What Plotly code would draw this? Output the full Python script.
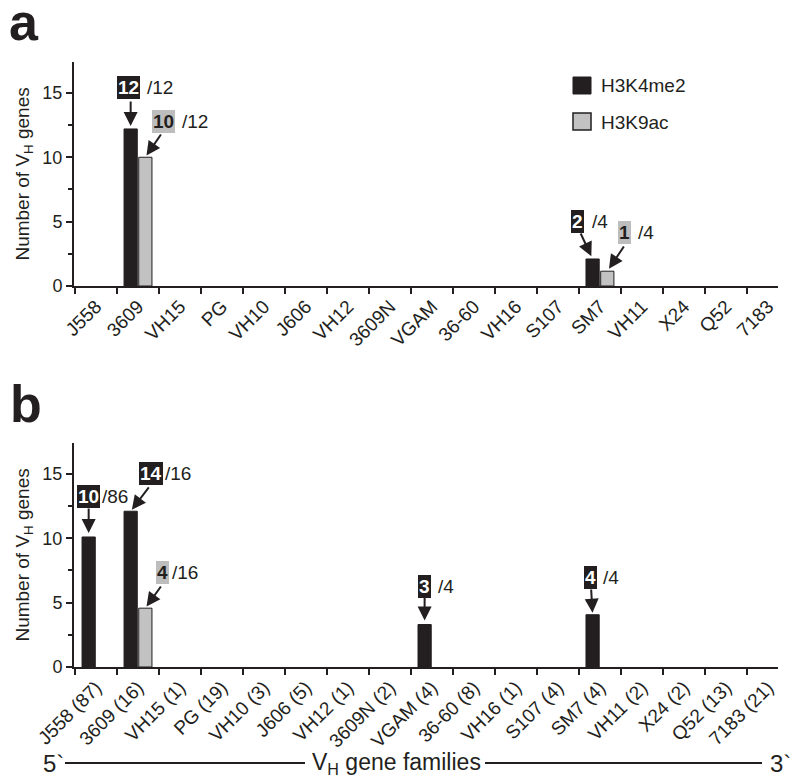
import plotly.graph_objects as go

# ---------------- data ----------------
families_a = ["J558", "3609", "VH15", "PG", "VH10", "J606", "VH12", "3609N", "VGAM",
              "36-60", "VH16", "S107", "SM7", "VH11", "X24", "Q52", "7183"]
family_sizes = [87, 16, 1, 19, 3, 5, 1, 2, 4, 8, 1, 4, 4, 2, 2, 13, 21]
families_b = [f"{f} ({n})" for f, n in zip(families_a, family_sizes)]

a_h3k4me2 = [0, 12.2, 0, 0, 0, 0, 0, 0, 0, 0, 0, 0, 2.1, 0, 0, 0, 0]
a_h3k9ac = [0, 10.0, 0, 0, 0, 0, 0, 0, 0, 0, 0, 0, 1.15, 0, 0, 0, 0]
b_h3k4me2 = [10.1, 12.1, 0, 0, 0, 0, 0, 0, 3.3, 0, 0, 0, 4.06, 0, 0, 0, 0]
b_h3k9ac = [0, 4.57, 0, 0, 0, 0, 0, 0, 0, 0, 0, 0, 0, 0, 0, 0, 0]

# count labels: (category index, series, count, total)
labels_a = [(1, "H3K4me2", "12", "/12"), (1, "H3K9ac", "10", "/12"),
            (12, "H3K4me2", "2", "/4"), (12, "H3K9ac", "1", "/4")]
labels_b = [(0, "H3K4me2", "10", "/86"), (1, "H3K4me2", "14", "/16"),
            (1, "H3K9ac", "4", "/16"), (8, "H3K4me2", "3", "/4"),
            (12, "H3K4me2", "4", "/4")]

# ---------------- style ----------------
FONT = "Liberation Sans, Arial, Helvetica, sans-serif"
INK = "#231f20"
GRAY = "#c2c2c2"
BOXGRAY = "#bdbdbd"
BARGAP = 0.3
OFF = (1 - BARGAP) / 4  # bar center offset within group

# pixel offsets for the label boxes / arrows (box_dx, box_dy, tot_dx, ax, ay, standoff)
offs_a = [(-2, 41, 14.4, 0, -29, 3), (18.6, 35.3, 34.6, 16.6, -24.3, 2),
          (-15.1, 37.5, -2.6, -12.6, -27, 3), (17.1, 39.2, 28.6, 17.6, -26.2, 3)]
offs_b = [(-0.6, 40.5, 11.3, 0, -30, 4), (20.3, 37.3, 32.3, 19.3, -25.3, 2),
          (17.6, 35.7, 24.6, 16.6, -23.2, 2), (0, 38.5, 11.3, 0, -28.5, 4),
          (-2, 37.7, 8.3, -1.5, -26.7, 2)]


def bars(v):
    return [x if x else None for x in v]


fig = go.Figure()
for cats, blk, gry, xa, ya in [(families_a, a_h3k4me2, a_h3k9ac, "x", "y"),
                               (families_b, b_h3k4me2, b_h3k9ac, "x2", "y2")]:
    fig.add_trace(go.Bar(x=cats, y=bars(blk), name="H3K4me2", xaxis=xa, yaxis=ya,
                         marker=dict(color=INK, line=dict(color=INK, width=1))))
    fig.add_trace(go.Bar(x=cats, y=bars(gry), name="H3K9ac", xaxis=xa, yaxis=ya,
                         marker=dict(color=GRAY, line=dict(color=INK, width=1))))

annotations = []
for labels, offs, xr, yr, vals in [
        (labels_a, offs_a, "x", "y", {"H3K4me2": a_h3k4me2, "H3K9ac": a_h3k9ac}),
        (labels_b, offs_b, "x2", "y2", {"H3K4me2": b_h3k4me2, "H3K9ac": b_h3k9ac})]:
    for (ci, series, cnt, tot), (bdx, bdy, tdx, ax, ay, so) in zip(labels, offs):
        xc = ci - OFF if series == "H3K4me2" else ci + OFF
        yv = vals[series][ci]
        black = series == "H3K4me2"
        annotations.append(dict(
            x=xc, y=yv, xref=xr, yref=yr, text=f"<b>{cnt}</b>", showarrow=False,
            xanchor="center", yanchor="middle", xshift=bdx, yshift=bdy,
            bgcolor=INK if black else BOXGRAY, borderpad=1, borderwidth=0,
            font=dict(family=FONT, size=19, color="white" if black else INK)))
        annotations.append(dict(
            x=xc, y=yv, xref=xr, yref=yr, text=tot, showarrow=False,
            xanchor="left", yanchor="middle", xshift=tdx, yshift=bdy,
            font=dict(family=FONT, size=19, color=INK)))
        annotations.append(dict(
            x=xc, y=yv, xref=xr, yref=yr, text="", showarrow=True,
            ax=ax, ay=ay, standoff=so, arrowhead=2, arrowsize=1.4,
            arrowwidth=2, arrowcolor=INK))

# axis titles
for yr in ["y domain", "y2 domain"]:
    annotations.append(dict(
        x=-0.0716, y=0.5, xref="paper", yref=yr, text="Number of V<sub>H</sub> genes",
        textangle=-90, showarrow=False, xanchor="center", yanchor="middle",
        font=dict(family=FONT, size=19, color=INK)))

# panel letters
annotations.append(dict(x=-0.071, y=1.066, xref="paper", yref="paper", text="<b>a</b>",
                        showarrow=False, xanchor="center", yanchor="middle",
                        font=dict(family=FONT, size=52, color=INK)))
annotations.append(dict(x=-0.068, y=0.4347, xref="paper", yref="paper", text="<b>b</b>",
                        showarrow=False, xanchor="center", yanchor="middle",
                        font=dict(family=FONT, size=52, color=INK)))

# legend (panel a)
annotations.append(dict(x=0.7457, y=0.8929, xref="x domain", yref="y domain", text="H3K4me2",
                        showarrow=False, xanchor="left", yanchor="middle",
                        font=dict(family=FONT, size=19, color=INK)))
annotations.append(dict(x=0.7457, y=0.7321, xref="x domain", yref="y domain", text="H3K9ac",
                        showarrow=False, xanchor="left", yanchor="middle",
                        font=dict(family=FONT, size=19, color=INK)))

# bottom 5' -> 3' axis
annotations.append(dict(x=-0.0298, y=-0.1587, xref="paper", yref="paper", text="5`",
                        showarrow=False, xanchor="center", yanchor="middle",
                        font=dict(family=FONT, size=24, color=INK)))
annotations.append(dict(x=0.3352, y=-0.1587, xref="paper", yref="paper",
                        text="V<sub>H</sub> gene families", showarrow=False,
                        xanchor="left", yanchor="middle",
                        font=dict(family=FONT, size=23, color=INK)))
annotations.append(dict(x=0.9858, y=-0.1587, xref="paper", yref="paper", text="3`",
                        showarrow=False, xanchor="left", yanchor="middle",
                        font=dict(family=FONT, size=24, color=INK)))

shapes = [
    dict(type="rect", xref="x domain", yref="y domain", x0=0.7088, x1=0.7344,
         y0=0.8571, y1=0.9330, fillcolor=INK, line=dict(color=INK, width=1)),
    dict(type="rect", xref="x domain", yref="y domain", x0=0.7088, x1=0.7344,
         y0=0.6964, y1=0.7723, fillcolor=GRAY, line=dict(color=INK, width=1.5)),
    dict(type="line", xref="paper", yref="paper", x0=-0.0128, x1=0.3281,
         y0=-0.1587, y1=-0.1587, line=dict(color=INK, width=2)),
    dict(type="line", xref="paper", yref="paper", x0=0.5838, x1=0.9773,
         y0=-0.1587, y1=-0.1587, line=dict(color=INK, width=2)),
]

xcommon = dict(type="category", range=[-0.524, 16.24], tickson="boundaries",
               ticks="outside", ticklen=6, tickwidth=2, tickcolor=INK,
               showline=True, linewidth=2, linecolor=INK, showgrid=False,
               tickangle=-45, tickfont=dict(family=FONT, size=19, color=INK),
               domain=[0, 1], zeroline=False, automargin=False)
ycommon = dict(range=[0, 17.4], tick0=0, dtick=5, ticks="outside", ticklen=6,
               tickwidth=2, tickcolor=INK, showline=True, linewidth=2, linecolor=INK,
               showgrid=False, zeroline=False, automargin=False,
               tickfont=dict(family=FONT, size=18, color=INK),
               minor=dict(tick0=0, dtick=2.5, ticks="outside", ticklen=4,
                          tickwidth=2, tickcolor=INK, showgrid=False))

fig.update_layout(
    width=800, height=780,
    margin=dict(l=74, r=22, t=62, b=113, autoexpand=False),
    plot_bgcolor="white", paper_bgcolor="white",
    barmode="group", bargap=BARGAP, bargroupgap=0.1,
    showlegend=False,
    xaxis=dict(xcommon, anchor="y", categoryorder="array", categoryarray=families_a),
    yaxis=dict(ycommon, anchor="x", domain=[0.62975, 1]),
    xaxis2=dict(xcommon, anchor="y2", categoryorder="array", categoryarray=families_b),
    yaxis2=dict(ycommon, anchor="x2", domain=[0, 0.37025]),
    annotations=annotations,
    shapes=shapes,
    font=dict(family=FONT, color=INK),
)

fig.write_html("out.html", config={"displayModeBar": False},
               post_script="document.body.style.margin='0';document.body.style.overflow='hidden';")
